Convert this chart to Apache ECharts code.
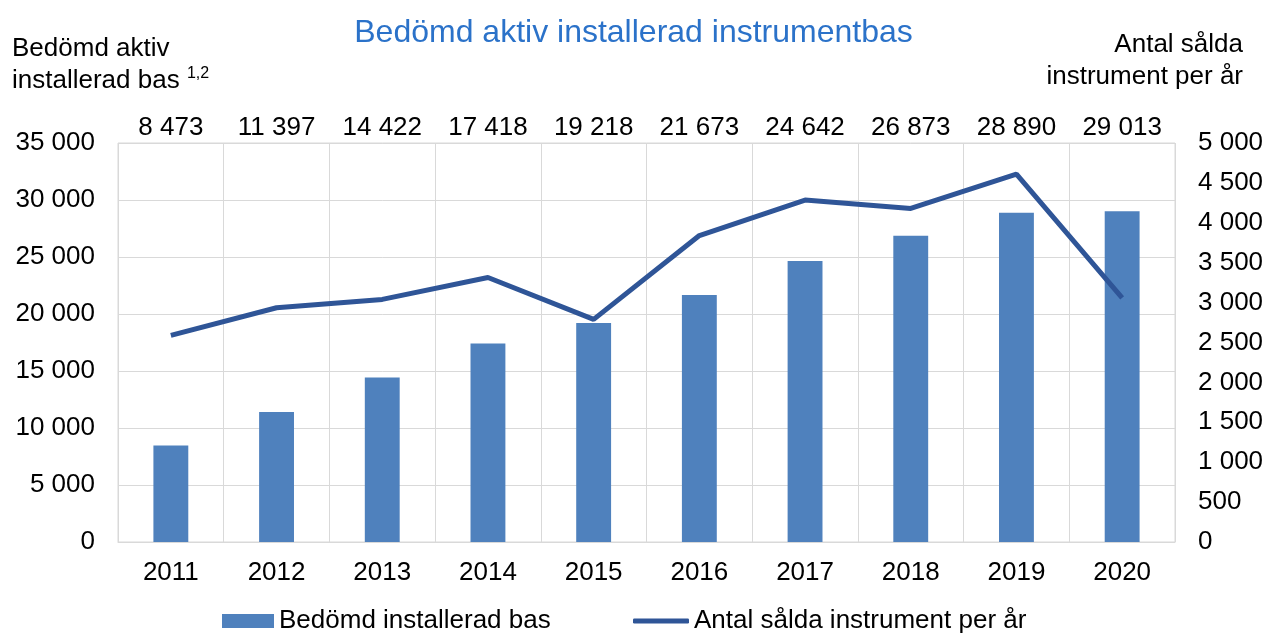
<!DOCTYPE html>
<html>
<head>
<meta charset="utf-8">
<script src="https://cdn.jsdelivr.net/npm/echarts@6/dist/echarts.min.js"></script>
<style>
html,body{margin:0;padding:0;background:#fff;}
#chart{width:1267px;height:633px;}
</style>
</head>
<body>
<div id="chart"></div>
<script>
const years = ['2011','2012','2013','2014','2015','2016','2017','2018','2019','2020'];
const installedBase = [8473, 11397, 14422, 17418, 19218, 21673, 24642, 26873, 28890, 29013];
const soldPerYear = [2590, 2935, 3040, 3315, 2790, 3840, 4285, 4180, 4610, 3060];
const leftTicks = {min: 0, max: 35000, interval: 5000};
const rightTicks = {min: 0, max: 5000, interval: 500};

function fmt(v){ return String(v).replace(/\B(?=(\d{3})+(?!\d))/g, ' '); }

const FONT = 'Liberation Sans, Arial, sans-serif';
const FS = 26;
const chart = echarts.init(document.getElementById('chart'));
chart.setOption({
  animation: false,
  textStyle: {fontFamily: FONT},
  title: [
    {text: 'Bedömd aktiv installerad instrumentbas', left: 'center', top: 12,
     textStyle: {fontFamily: FONT, fontSize: 32, fontWeight: 'normal', color: '#2B72C9'}},
    {text: '{a|Bedömd aktiv}\n{a|installerad bas }{s|1,2}', left: 7, top: 28,
     textStyle: {fontWeight: 'normal', rich: {
       a: {fontFamily: FONT, fontSize: FS, fontWeight: 'normal', color: '#000', lineHeight: 32},
       s: {fontFamily: FONT, fontSize: 16, fontWeight: 'normal', color: '#000', lineHeight: 32, padding: [0,0,14,0]}
     }}},
    {text: '{r|Antal sålda}\n{r|instrument per år}', right: 19, top: 24,
     textStyle: {fontWeight: 'normal', rich: {
       r: {fontFamily: FONT, fontSize: FS, fontWeight: 'normal', color: '#000', lineHeight: 32, align: 'right'}
     }}}
  ],
  grid: {left: 118, right: 92, top: 143, bottom: 91, containLabel: false,
         show: true, borderColor: '#d9d9d9', borderWidth: 1},
  legend: [
    {left: 217, top: 603, itemWidth: 52, itemHeight: 14, icon: 'rect',
     textStyle: {fontFamily: FONT, fontSize: FS, color: '#000'},
     data: ['Bedömd installerad bas']},
    {left: 628, top: 603, itemWidth: 56, itemHeight: 5, icon: 'roundRect',
     textStyle: {fontFamily: FONT, fontSize: FS, color: '#000'},
     data: ['Antal sålda instrument per år']}
  ],
  xAxis: [
    {type: 'category', data: years, position: 'bottom',
     axisLine: {show: true, lineStyle: {color: '#d9d9d9', width: 1}},
     axisTick: {show: false},
     axisLabel: {fontFamily: FONT, fontSize: FS, color: '#000', margin: 18},
     splitLine: {show: true, lineStyle: {color: '#d9d9d9', width: 1}}},
    {type: 'category', data: installedBase.map(fmt), position: 'top',
     axisLine: {show: false}, axisTick: {show: false},
     axisLabel: {fontFamily: FONT, fontSize: FS, color: '#000', margin: 2},
     splitLine: {show: false}}
  ],
  yAxis: [
    {type: 'value', min: leftTicks.min, max: leftTicks.max, interval: leftTicks.interval,
     axisLine: {show: false}, axisTick: {show: false},
     axisLabel: {fontFamily: FONT, fontSize: FS, color: '#000', margin: 23, formatter: fmt},
     splitLine: {show: true, lineStyle: {color: '#d9d9d9', width: 1}}},
    {type: 'value', min: rightTicks.min, max: rightTicks.max, interval: rightTicks.interval,
     position: 'right',
     axisLine: {show: false}, axisTick: {show: false},
     axisLabel: {fontFamily: FONT, fontSize: FS, color: '#000', margin: 23, align: 'left', formatter: fmt},
     splitLine: {show: false}}
  ],
  series: [
    {name: 'Bedömd installerad bas', type: 'bar', data: installedBase,
     xAxisIndex: 0, yAxisIndex: 0, barWidth: '33%',
     itemStyle: {color: '#4F81BD'}},
    {name: 'Antal sålda instrument per år', type: 'line', data: soldPerYear,
     xAxisIndex: 0, yAxisIndex: 1, symbol: 'none', smooth: false,
     lineStyle: {color: '#2F5597', width: 5}, itemStyle: {color: '#2F5597'}}
  ]
});
</script>
</body>
</html>
